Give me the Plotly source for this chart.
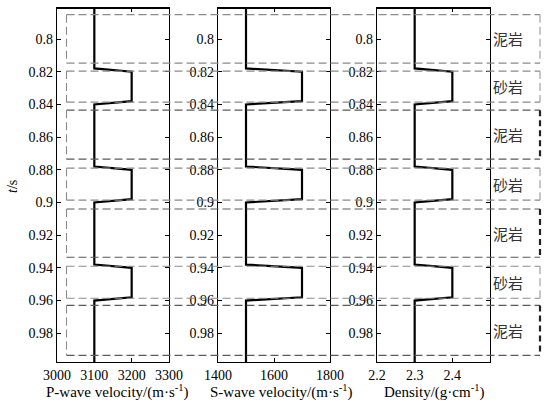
import plotly.graph_objects as go

# ---- data ----
t = [0.78, 0.818, 0.820, 0.838, 0.840, 0.878, 0.880, 0.898, 0.900, 0.938, 0.940, 0.958, 0.960, 1.00]
vp = [3100, 3100, 3200, 3200, 3100, 3100, 3200, 3200, 3100, 3100, 3200, 3200, 3100, 3100]
vs = [1500, 1500, 1700, 1700, 1500, 1500, 1700, 1700, 1500, 1500, 1700, 1700, 1500, 1500]
rho = [2.3, 2.3, 2.4, 2.4, 2.3, 2.3, 2.4, 2.4, 2.3, 2.3, 2.4, 2.4, 2.3, 2.3]

layer_top = [0.7851, 0.8196, 0.8435, 0.8790, 0.9040, 0.9390, 0.9630]
layer_bottom = [0.8147, 0.8386, 0.8735, 0.8986, 0.9335, 0.9586, 0.9935]
lithology = ["泥岩", "砂岩", "泥岩", "砂岩", "泥岩", "砂岩", "泥岩"]

y_ticks = [0.8, 0.82, 0.84, 0.86, 0.88, 0.9, 0.92, 0.94, 0.96, 0.98]
y_ticktext = ["0.8", "0.82", "0.84", "0.86", "0.88", "0.9", "0.92", "0.94", "0.96", "0.98"]
vp_ticks = [3000, 3100, 3200, 3300]
vs_ticks = [1400, 1600, 1800]
rho_ticks = [2.2, 2.3, 2.4]

x_titles = ["P-wave velocity/(m·s<sup>-1</sup>)", "S-wave velocity/(m·s<sup>-1</sup>)",
            "Density/(g·cm<sup>-1</sup>)"]

# ---- figure ----
W, H = 551, 404
SERIF = "Liberation Serif"
fig = go.Figure()

for i, vals in enumerate([vp, vs, rho]):
    sfx = "" if i == 0 else str(i + 1)
    fig.add_trace(go.Scatter(x=vals, y=t, mode="lines",
                             line=dict(color="black", width=2.2),
                             xaxis="x" + sfx, yaxis="y" + sfx, showlegend=False,
                             hoverinfo="skip"))

x_dom = [(57, 169), (218, 330), (377, 490)]
x_rng = [[3000, 3300], [1400, 1800], [2.2, 2.5]]
x_tk = [vp_ticks, vs_ticks, rho_ticks]
y_dom = [1 - 362 / H, 1 - 8 / H]
y_rng = [0.9976, 0.781]

layout = dict(width=W, height=H, margin=dict(l=0, r=0, t=0, b=0),
              paper_bgcolor="white", plot_bgcolor="white", showlegend=False,
              font=dict(family=SERIF, color="black"))
for i in range(3):
    sfx = "" if i == 0 else str(i + 1)
    layout["xaxis" + sfx] = dict(
        domain=[x_dom[i][0] / W, x_dom[i][1] / W], range=x_rng[i], anchor="y" + sfx,
        tickvals=x_tk[i], ticks="inside", ticklen=4, tickcolor="black",
        showline=True, linecolor="black", linewidth=1.2, mirror="ticks",
        showgrid=False, zeroline=False, automargin=False,
        tickfont=dict(family=SERIF, size=14, color="black"))
    layout["yaxis" + sfx] = dict(
        domain=y_dom, range=y_rng, anchor="x" + sfx,
        tickvals=y_ticks, ticktext=y_ticktext, ticks="inside", ticklen=4, tickcolor="black",
        showline=True, linecolor="black", linewidth=1.2, mirror="ticks",
        showgrid=False, zeroline=False, automargin=False,
        tickfont=dict(family=SERIF, size=14, color="black"))
fig.update_layout(**layout)

shapes = []
# thicker top frame lines
for i in range(3):
    sfx = "" if i == 0 else str(i + 1)
    shapes.append(dict(type="line", xref="x" + sfx + " domain", yref="y" + sfx + " domain",
                       x0=0, x1=1, y0=1, y1=1, line=dict(color="black", width=2)))

xl, xr = 66.5 / W, 540 / W
for k in range(len(layer_top)):
    mud = lithology[k] == "泥岩" and k > 0
    hc = "#5a5a5a" if mud else "#8a8a8a"
    y0, y1 = layer_top[k], layer_bottom[k]
    for yy in (y0, y1):
        shapes.append(dict(type="line", xref="paper", yref="y", x0=xl, x1=xr, y0=yy, y1=yy,
                           line=dict(color=hc, width=1.2, dash="8px,4px")))
    shapes.append(dict(type="line", xref="paper", yref="y", x0=xl, x1=xl, y0=y0, y1=y1,
                       line=dict(color="#8a8a8a", width=1.1, dash="8px,4px")))
    shapes.append(dict(type="line", xref="paper", yref="y", x0=xr, x1=xr, y0=y0, y1=y1,
                       line=dict(color="#222222" if mud else "#9a9a9a",
                                 width=2.2 if mud else 1.1,
                                 dash="6px,4px" if mud else "8px,4px")))
fig.update_layout(shapes=shapes)

ann = []
for k in range(len(layer_top)):
    ann.append(dict(x=508 / W, y=(layer_top[k] + layer_bottom[k]) / 2, xref="paper", yref="y",
                    xanchor="center", yanchor="middle",
                    text=lithology[k], showarrow=False,
                    font=dict(family="Noto Sans CJK SC", size=15, color="#333333")))
title_cx = [117, 281, 434]
for i in range(3):
    ann.append(dict(x=title_cx[i] / W, y=(H - 391) / H, xref="paper", yref="paper",
                    xanchor="center", yanchor="middle",
                    text=x_titles[i], showarrow=False,
                    font=dict(family=SERIF, size=15, color="black")))
ann.append(dict(x=12 / W, y=(H - 187) / H, xref="paper", yref="paper", text="<i>t</i>/s",
                xanchor="center", yanchor="middle",
                textangle=-90, showarrow=False, font=dict(family=SERIF, size=14, color="black")))
fig.update_layout(annotations=ann)

fig.write_html("out.html", config={"displayModeBar": False},
               post_script="document.body.style.margin='0';")
